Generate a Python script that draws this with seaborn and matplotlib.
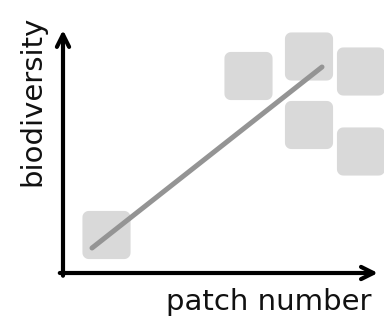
import numpy as np
import pandas as pd
from matplotlib import pyplot as plt
from matplotlib.path import Path
import seaborn as sns

# patches (centre of each square) and the trend line
patch_x = [43.5, 185.5, 246, 298, 246, 298]
patch_y = [38, 197, 216.5, 201.5, 148, 121.5]
trend_x = [29, 259]
trend_y = [25, 206]

x_label = 'patch number'
y_label = 'biodiversity'

sns.set_style('white')
plt.rcParams['font.family'] = ['DejaVu Sans']

# rounded square marker
r = 0.13
t = np.linspace(0, np.pi / 2, 8)
verts = []
for cx, cy, a0 in [(0.5 - r, 0.5 - r, 0), (-0.5 + r, 0.5 - r, np.pi / 2),
                   (-0.5 + r, -0.5 + r, np.pi), (0.5 - r, -0.5 + r, 1.5 * np.pi)]:
    for a in t + a0:
        verts.append((cx + r * np.cos(a), cy + r * np.sin(a)))
verts.append(verts[0])
rsquare = Path(verts)

fig = plt.figure(figsize=(3.84, 3.16), dpi=100)
ax = fig.add_axes([63 / 384, 43 / 316, 321 / 384, 273 / 316])
ax.set_xlim(0, 321)
ax.set_ylim(0, 273)

patches = pd.DataFrame({'x': patch_x, 'y': patch_y})
sns.scatterplot(data=patches, x='x', y='y', marker=rsquare, s=1200,
                color='#d9d9d9', edgecolor='none', linewidth=0, ax=ax)

trend = pd.DataFrame({'x': trend_x, 'y': trend_y})
sns.lineplot(data=trend, x='x', y='y', color='#949494', lw=3.6, ax=ax)

for s in ax.spines.values():
    s.set_visible(False)
ax.set_xticks([])
ax.set_yticks([])
ax.set_xlabel('')
ax.set_ylabel('')

arrow = dict(arrowstyle='->', lw=3, color='black', mutation_scale=22,
             shrinkA=0, shrinkB=0)
ax.annotate('', xy=(0.981, 0), xytext=(-0.01, 0), xycoords='axes fraction',
            arrowprops=arrow)
ax.annotate('', xy=(0, 0.89), xytext=(0, -0.01), xycoords='axes fraction',
            arrowprops=arrow)

fig.text(372 / 384, 1 - 310 / 316, x_label, ha='right', va='baseline',
         fontsize=21, color='#111111')
fig.text(46 / 384, 1 - 101 / 316, y_label, ha='right', va='center',
         rotation=90, fontsize=21, color='#111111')

plt.savefig('out.png', dpi=100)
